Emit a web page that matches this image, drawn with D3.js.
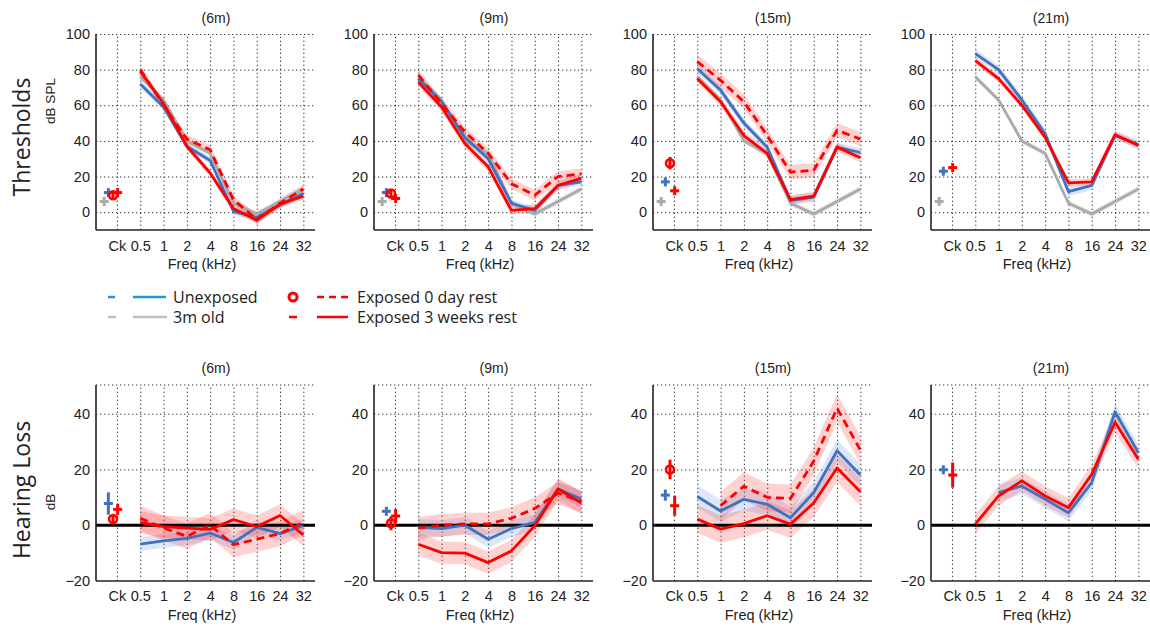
<!DOCTYPE html>
<html>
<head>
<meta charset="utf-8">
<script src="https://cdn.jsdelivr.net/npm/d3@7"></script>
<style>
body { margin: 0; background: #fff; }
svg text { font-family: "Liberation Sans", Arial, sans-serif; fill: #222; }
</style>
</head>
<body>
<svg id="chart" width="1150" height="628"></svg>
<script>
// categories (index 0 = click stimulus "Ck")
const freqLabels = ["Ck", "0.5", "1", "2", "4", "8", "16", "24", "32"];
const ageLabels = ["(6m)", "(9m)", "(15m)", "(21m)"];

// thresholds, dB SPL, one row per age (6m, 9m, 15m, 21m), first value = Ck
const thr3mOld = [6, 76, 63, 40, 33, 5, -1, 6, 13];
const thrUnexposed = [
    [11, 72, 59, 37, 29, 0.5, -3, 4, 10.5],
    [11, 75, 62, 42, 30, 5, 1, 15, 17],
    [17, 80.5, 68.5, 50, 36.5, 6.5, 8.5, 36.5, 33.5],
    [23, 89, 80, 63, 44, 11.5, 15, 43, 38]
];
const thrExposed0 = [
    [9.5, 80, 60, 41, 35, 7, -4, 5, 13],
    [10.5, 77, 61, 45, 33, 16, 9.5, 20, 21.5],
    [27.5, 84.5, 74, 62, 43, 22.5, 23.5, 46, 41],
    null
];
const thrExposed3 = [
    [11, 79, 61, 37, 22, 2, -4.5, 4.5, 9],
    [7.7, 73, 59, 38.5, 25.5, 1, 2, 15, 19],
    [12, 75, 62, 43, 33, 7, 9, 36.5, 30.5],
    [25, 85, 75, 60, 42, 16.5, 17, 43.5, 37.5]
];
// shaded band half widths and Ck error bars (dB), per age
const thrBandOld = [1.5, 1.5, 1.5, 1.5];
const thrBandUnexp = [2, 2, 2.5, 2.5];
const thrBand0 = [2.5, 3, 4, null];
const thrBand3 = [2, 2.5, 2.5, 2];
const thrCkErrOld = [1.5, 1.5, 1.5, 1.5];
const thrCkErrUnexp = [2.5, 1.5, 2, 1.5];
const thrCkErr0 = [2, 2, 3.5, null];
const thrCkErr3 = [2, 2, 2.5, 2];

// hearing loss, dB, one row per age, first value = Ck
const hlUnexposed = [
    [7.8, -6.8, -5.6, -4.7, -2.8, -6.2, -0.8, -3, -0.2],
    [5, -0.8, -1.2, 0, -5, -1.2, 1, 13, 9.4],
    [10.8, 10.3, 5.1, 9.3, 7.5, 2.7, 11.7, 26.7, 18],
    [19.9, null, 11.7, 14.1, 9.3, 4.5, 15.3, 40.7, 26]
];
const hlExposed0 = [
    [2.2, 2.5, -1, -4, 0, -7, -5, -3, 1],
    [0.7, -1, 0, 0.5, 0.5, 2.5, 6, 11.5, 8.5],
    [20, null, 7, 14, 10, 9.6, 23, 42, 27],
    null
];
const hlExposed3 = [
    [5.7, 1, -0.5, -1, -1.5, 2, -0.5, 3.5, -3.5],
    [3.3, -6.8, -9.8, -10, -13.4, -9.2, -0.2, 13, 8],
    [7, 2.2, -1.4, 0.6, 3.4, 0.4, 8, 20.5, 12],
    [18, 0.4, 10.5, 15.9, 10.5, 6.3, 18.3, 36.9, 23.7]
];
const hlBandUnexp = [2.5, 3, 4, 3];
const hlBand0 = [4.5, 4, 5, null];
const hlBand3 = [4, 4, 5, 3.5];
const hlCkErrUnexp = [4, 1.5, 2, 1];
const hlCkErr0 = [1.5, 2.5, 3.5, null];
const hlCkErr3 = [2, 2.5, 3.6, 4.5];

const legendLabels = ["Unexposed", "3m old", "Exposed 0 day rest", "Exposed 3 weeks rest"];

// ---- layout / style ----
const svg = d3.select("#chart");
const panelLeft = [96, 374, 653, 931];
const plotW = 219;
const col = { blue: "#3f72c0", gray: "#aaaaaa", red: "#ff0000" };

const x = d3.scaleLinear().domain([-0.9, 8.5]).range([0, plotW]);

function drawPanel(left, rowCfg, series, title) {
    let y = d3.scaleLinear().domain(rowCfg.domain).range(rowCfg.range);
    let g = svg.append("g").attr("transform", "translate(" + left + ",0)");
    let yBot = rowCfg.range[0], yTop = rowCfg.range[1];

    // vertical grid + x labels
    let xAxis = d3.axisBottom(x)
        .tickValues(d3.range(9))
        .tickFormat(function(i){ return freqLabels[i]; })
        .tickSize(-(yBot - yTop))
        .tickSizeOuter(0)
        .tickPadding(rowCfg.xPad);
    let gx = g.append("g").attr("transform", "translate(0," + yBot + ")").call(xAxis);
    gx.select(".domain").remove();
    gx.selectAll(".tick line").attr("stroke", "#333").attr("stroke-dasharray", "1.3,2.7");
    gx.selectAll("text").attr("font-size", 14.5).attr("fill", "#222");

    // horizontal grid + y labels
    let yAxis = d3.axisLeft(y)
        .tickValues(rowCfg.ticks)
        .tickSize(-plotW)
        .tickSizeOuter(0)
        .tickPadding(6);
    let gy = g.append("g").call(yAxis);
    gy.select(".domain").remove();
    gy.selectAll(".tick line").attr("stroke", "#333").attr("stroke-dasharray", "1.3,2.7")
        .attr("opacity", function(d){ return (d === rowCfg.domain[0] || d === 0 && rowCfg.zeroLine) ? 0 : 1; });
    gy.selectAll("text").attr("font-size", 14.5).attr("fill", "#222");
    if (rowCfg.topGrid) {
        g.append("line").attr("x1", 0).attr("x2", plotW).attr("y1", yTop).attr("y2", yTop)
            .attr("stroke", "#333").attr("stroke-dasharray", "1.3,2.7");
    }

    // bands
    series.forEach(function(s){
        if (!s.values || s.band == null) return;
        let pts = s.values.map(function(v, i){ return {i: i, v: v}; }).slice(1);
        let area = d3.area()
            .defined(function(d){ return d.v != null; })
            .x(function(d){ return x(d.i); })
            .y0(function(d){ return y(d.v - s.band); })
            .y1(function(d){ return y(d.v + s.band); });
        g.append("path").datum(pts).attr("d", area)
            .attr("fill", s.bandColor).attr("opacity", 0.22);
    });

    // zero line
    if (rowCfg.zeroLine) {
        g.append("line").attr("x1", 0).attr("x2", plotW).attr("y1", y(0)).attr("y2", y(0))
            .attr("stroke", "#000").attr("stroke-width", 3);
    }

    // lines
    series.forEach(function(s){
        if (!s.values) return;
        let pts = s.values.map(function(v, i){ return {i: i, v: v}; }).slice(1);
        let line = d3.line()
            .defined(function(d){ return d.v != null; })
            .x(function(d){ return x(d.i); })
            .y(function(d){ return y(d.v); });
        g.append("path").datum(pts).attr("d", line)
            .attr("fill", "none").attr("stroke", s.color).attr("stroke-width", 2.8)
            .attr("stroke-linejoin", "round")
            .attr("stroke-dasharray", s.dash || null);
    });

    // Ck markers
    series.forEach(function(s){
        if (!s.values || s.values[0] == null) return;
        let v = s.values[0], cx = x(s.ckOff), cy = y(v);
        let e = Math.max(y(v - s.ckErr) - cy, 4.5);
        g.append("line").attr("x1", cx).attr("x2", cx).attr("y1", cy - e).attr("y2", cy + e)
            .attr("stroke", s.color).attr("stroke-width", 3);
        if (s.marker === "circle") {
            g.append("circle").attr("cx", cx).attr("cy", cy).attr("r", 4)
                .attr("fill", "none").attr("stroke", s.color).attr("stroke-width", 2.6);
        } else {
            g.append("line").attr("x1", cx - 4.5).attr("x2", cx + 4.5).attr("y1", cy).attr("y2", cy)
                .attr("stroke", s.color).attr("stroke-width", 3);
        }
    });

    // solid axes
    g.append("line").attr("x1", 0).attr("x2", 0).attr("y1", yTop).attr("y2", yBot)
        .attr("stroke", "#222").attr("stroke-width", 1.6);
    g.append("line").attr("x1", 0).attr("x2", plotW).attr("y1", yBot).attr("y2", yBot)
        .attr("stroke", "#222").attr("stroke-width", 1.6);

    // titles
    g.append("text").attr("x", 120).attr("y", rowCfg.titleY).attr("text-anchor", "middle")
        .attr("font-size", 14).text(title);
    g.append("text").attr("x", 106).attr("y", rowCfg.freqY).attr("text-anchor", "middle")
        .attr("font-size", 14.5).text("Freq (kHz)");
}

const topRow = { domain: [-10, 100], range: [230, 34], ticks: [0, 20, 40, 60, 80, 100],
    xPad: 11, titleY: 23, freqY: 269, zeroLine: false, topGrid: false };
const botRow = { domain: [-20, 50.3], range: [581, 385], ticks: [-20, 0, 20, 40],
    xPad: 10, titleY: 373, freqY: 620, zeroLine: true, topGrid: true };

for (let a = 0; a < 4; a++) {
    drawPanel(panelLeft[a], topRow, [
        { values: thr3mOld, band: thrBandOld[a], ckErr: thrCkErrOld[a], color: col.gray, bandColor: "#888", ckOff: -0.55 },
        { values: thrUnexposed[a], band: thrBandUnexp[a], ckErr: thrCkErrUnexp[a], color: col.blue, bandColor: "#5b8fd6", ckOff: -0.37 },
        { values: thrExposed0[a], band: thrBand0[a], ckErr: thrCkErr0[a], color: col.red, bandColor: "#ff3030", dash: "8,5", marker: "circle", ckOff: -0.17 },
        { values: thrExposed3[a], band: thrBand3[a], ckErr: thrCkErr3[a], color: col.red, bandColor: "#ff3030", ckOff: 0.03 }
    ], ageLabels[a]);
    drawPanel(panelLeft[a], botRow, [
        { values: hlUnexposed[a], band: hlBandUnexp[a], ckErr: hlCkErrUnexp[a], color: col.blue, bandColor: "#5b8fd6", ckOff: -0.37 },
        { values: hlExposed0[a], band: hlBand0[a], ckErr: hlCkErr0[a], color: col.red, bandColor: "#ff3030", dash: "8,5", marker: "circle", ckOff: -0.17 },
        { values: hlExposed3[a], band: hlBand3[a], ckErr: hlCkErr3[a], color: col.red, bandColor: "#ff3030", ckOff: 0.03 }
    ], ageLabels[a]);
}

// row labels
function rowLabel(txt, sub, cy, subY) {
    svg.append("text").attr("transform", "translate(30," + cy + ") rotate(-90)")
        .attr("text-anchor", "middle").style("font-family", "'Open Sans', sans-serif")
        .attr("font-size", 23).text(txt);
    svg.append("text").attr("transform", "translate(55," + subY + ") rotate(-90)")
        .attr("text-anchor", "middle").attr("font-size", 13.5).text(sub);
}
rowLabel("Thresholds", "dB SPL", 137, 101);
rowLabel("Hearing Loss", "dB", 490, 502);

// legend
const lg = svg.append("g");
function legText(tx, ty, t) {
    lg.append("text").attr("x", tx).attr("y", ty + 6).attr("font-size", 16)
        .style("font-family", "'Open Sans', sans-serif").text(t);
}
function legLine(x1, x2, ly, c, dash) {
    lg.append("line").attr("x1", x1).attr("x2", x2).attr("y1", ly).attr("y2", ly)
        .attr("stroke", c).attr("stroke-width", 2.5).attr("stroke-dasharray", dash || null);
}
legLine(108, 115, 297, "#1e9bd7"); legLine(133, 166, 297, "#1e9bd7"); legText(173, 297, legendLabels[0]);
legLine(108, 116, 317, "#bfbfbf"); legLine(133, 167, 317, "#bfbfbf"); legText(173, 317, legendLabels[1]);
lg.append("circle").attr("cx", 293).attr("cy", 297).attr("r", 4)
    .attr("fill", "none").attr("stroke", col.red).attr("stroke-width", 3);
legLine(317, 348, 297, col.red, "7,5"); legText(357, 297, legendLabels[2]);
legLine(289, 297, 317, col.red); legLine(317, 348, 317, col.red); legText(357, 317, legendLabels[3]);
</script>
</body>
</html>
